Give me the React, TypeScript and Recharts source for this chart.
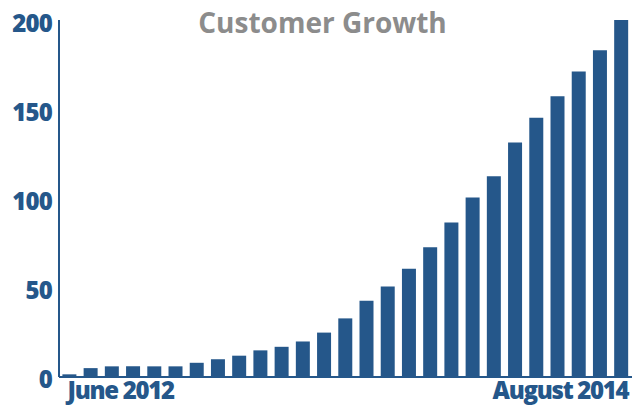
import { BarChart, Bar, XAxis, YAxis } from "recharts";

const months = [
  "June 2012", "July 2012", "August 2012", "September 2012", "October 2012",
  "November 2012", "December 2012", "January 2013", "February 2013",
  "March 2013", "April 2013", "May 2013", "June 2013", "July 2013",
  "August 2013", "September 2013", "October 2013", "November 2013",
  "December 2013", "January 2014", "February 2014", "March 2014",
  "April 2014", "May 2014", "June 2014", "July 2014", "August 2014",
];

const customers = [
  1.5, 5, 6, 6, 6, 6, 8, 10, 12, 15, 17, 20, 25, 33, 43, 51, 61, 73, 87, 101,
  113, 132, 146, 158, 172, 184, 201,
];

const yTicks = [0, 50, 100, 150, 200];

const data = months.map((m, i) => ({ month: m, customers: customers[i] }));

const BLUE = "#25578a";
const FONT = "'Open Sans', sans-serif";

function MonthTick(props: any) {
  const { x, y, index, payload } = props;
  const last = months.length - 1;
  if (index !== 0 && index !== last) return null;
  const first = index === 0;
  return (
    <text
      x={first ? x - 2 : x + 7}
      y={y}
      dy={22}
      textAnchor={first ? "start" : "end"}
      fill={BLUE}
      fontFamily={FONT}
      fontWeight={800}
      fontSize={24}
      letterSpacing={-1.3}
    >
      {payload.value}
    </text>
  );
}

export default function App() {
  return (
    <div style={{ position: "absolute", left: 0, top: 0, width: 633, height: 406, background: "#fff" }}>
      <div
        style={{
          position: "absolute",
          left: 0,
          width: 633,
          top: 3,
          paddingLeft: 12,
          boxSizing: "border-box",
          textAlign: "center",
          fontFamily: FONT,
          fontWeight: 700,
          fontSize: 28,
          lineHeight: "38px",
          color: "#8c8c8c",
          zIndex: 1,
        }}
      >
        Customer Growth
      </div>
      <BarChart
        width={633}
        height={406}
        data={data}
        margin={{ top: 20, right: 1, left: 0, bottom: 0 }}
        barCategoryGap="16%"
      >
        <XAxis
          dataKey="month"
          interval={0}
          height={29}
          tickLine={false}
          tickSize={0}
          tickMargin={0}
          axisLine={{ stroke: BLUE, strokeWidth: 2 }}
          tick={<MonthTick />}
        />
        <YAxis
          domain={[0, 200]}
          ticks={yTicks}
          width={59}
          tickLine={false}
          tickSize={0}
          tickMargin={7}
          axisLine={{ stroke: BLUE, strokeWidth: 2 }}
          tick={{
            fill: BLUE,
            fontFamily: FONT,
            fontWeight: 800,
            fontSize: 24,
            letterSpacing: -0.8,
            dy: 2,
          }}
        />
        <Bar dataKey="customers" fill={BLUE} isAnimationActive={false} />
      </BarChart>
    </div>
  );
}
